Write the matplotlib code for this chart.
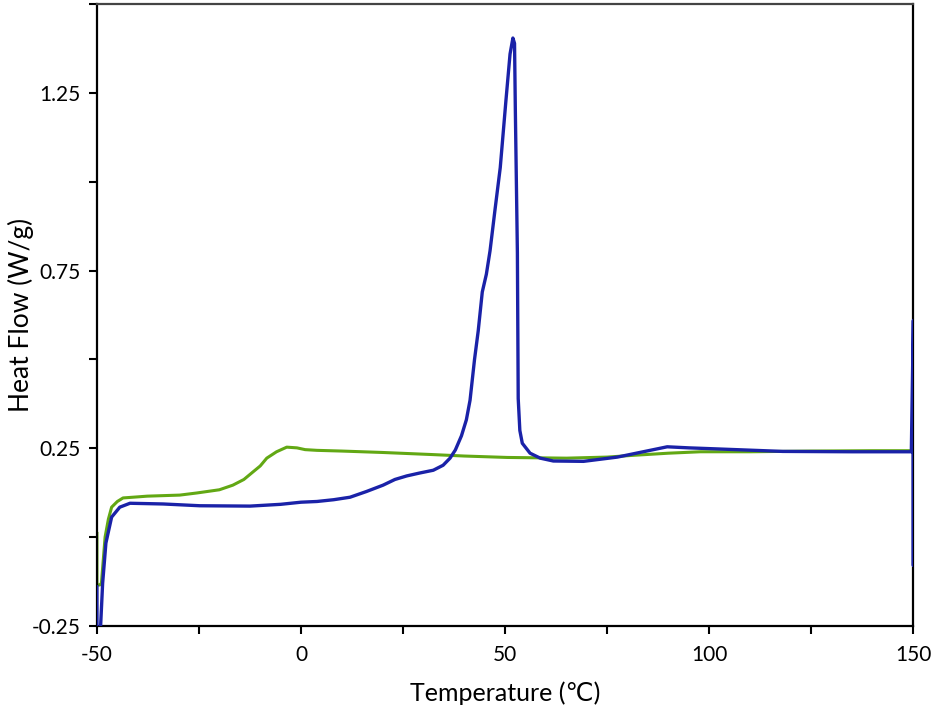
import numpy as np
import matplotlib.pyplot as plt
from matplotlib.ticker import MultipleLocator

# ── Data ─────────────────────────────────────────────────────────────────────
green_temp = [-50, -50, -49.3, -48.9, -48.0, -47.2, -46.4, -45.0, -43.6, -40.0,
              -37.7, -29.7, -25.5, -20.0, -16.7, -14.0, -11.8, -10.0, -8.4,
              -6.0, -3.5, -1.0, 1.0, 3.9, 10, 20, 32.4, 40, 50.5, 65, 75,
              81.4, 90, 97.8, 110, 125, 140, 149.5]
green_flow = [0.010, -0.135, -0.135, -0.130, 0.000, 0.050, 0.084, 0.100, 0.110,
              0.113, 0.115, 0.118, 0.124, 0.133, 0.146, 0.162, 0.183, 0.200,
              0.222, 0.240, 0.253, 0.251, 0.246, 0.244, 0.242, 0.238, 0.232,
              0.228, 0.224, 0.222, 0.225, 0.230, 0.236, 0.240, 0.240, 0.242,
              0.243, 0.243]

blue_temp = [-50, -50, -49.3, -48.6, -47.8, -46.4, -44.4, -41.9, -33.8, -24.8,
             -12.5, -5, 0, 3.9, 8, 12, 16, 20.1, 23, 25.9, 29, 32.4, 34.8,
             36.5, 37.8, 39.3, 40.5, 41.4, 42.5, 43.4, 44.4, 45.4, 46.3, 47.5,
             48.8, 50.2, 51.2, 51.9, 52.3, 52.5, 53.0, 53.2, 53.6, 54.2, 56.1,
             58.6, 61.8, 69.2, 77.5, 85.5, 89.7, 95, 102, 118, 135, 149.5,
             150, 150, 150]
blue_flow = [-0.14, -0.30, -0.30, -0.13, -0.017, 0.056, 0.084, 0.095, 0.093,
             0.088, 0.087, 0.092, 0.098, 0.100, 0.105, 0.112, 0.128, 0.146,
             0.162, 0.172, 0.180, 0.188, 0.202, 0.222, 0.245, 0.285, 0.330,
             0.385, 0.500, 0.580, 0.690, 0.740, 0.806, 0.920, 1.040, 1.230,
             1.360, 1.405, 1.390, 1.200, 0.800, 0.390, 0.300, 0.264, 0.236,
             0.222, 0.214, 0.213, 0.225, 0.244, 0.254, 0.251, 0.248, 0.241,
             0.240, 0.240, 0.61, -0.08, 0.24]

x_ticks = [-50, 0, 50, 100, 150]
x_tick_labels = ["-50", "0", "50", "100", "150"]
y_ticks = [-0.25, 0.25, 0.75, 1.25]
y_tick_labels = ["-0.25", "0.25", "0.75", "1.25"]

# ── Figure ───────────────────────────────────────────────────────────────────
plt.rcParams["font.family"] = ["Lato", "DejaVu Sans"]

fig = plt.figure(figsize=(9.32, 7.16), dpi=100)
ax = fig.add_axes([0.104, 0.126, 0.876, 0.868])

ax.plot(green_temp, green_flow, color="#62a814", linewidth=2.2, zorder=2)
ax.plot(blue_temp, blue_flow, color="#1a22a8", linewidth=2.4, zorder=3)

ax.set_xlim(-50, 150)
ax.set_ylim(-0.25, 1.5)

ax.set_xticks(x_ticks)
ax.set_xticklabels(x_tick_labels)
ax.set_yticks(y_ticks)
ax.set_yticklabels(y_tick_labels)
ax.xaxis.set_minor_locator(MultipleLocator(25))
ax.yaxis.set_minor_locator(MultipleLocator(0.25))

ax.tick_params(axis="both", which="both", direction="out", length=6,
               width=1.5, labelsize=15, color="black")
ax.tick_params(axis="x", pad=8)
ax.tick_params(axis="y", pad=6)
ax.tick_params(axis="x", which="both", top=False)
ax.tick_params(axis="y", which="both", right=False)

for side in ["left", "bottom", "right", "top"]:
    ax.spines[side].set_linewidth(1.6)
ax.spines["top"].set_color("#444444")

ax.set_xlabel("Temperature (℃)", fontsize=18, labelpad=12)
ax.set_ylabel("Heat Flow (W/g)", fontsize=19, va="center")
ax.yaxis.set_label_coords(-0.093, 0.5)

fig.savefig("out.png", dpi=100)
